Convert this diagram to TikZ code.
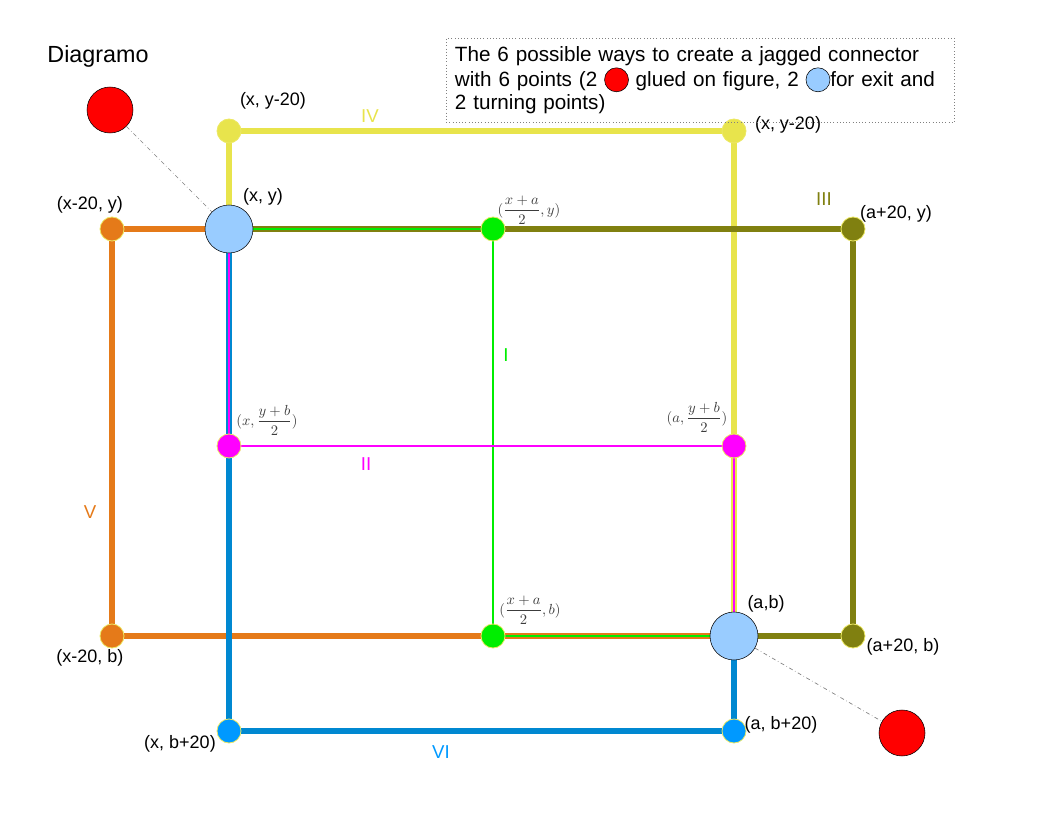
\documentclass[tikz,border=0pt]{standalone}
\usepackage{amsmath}
\usepackage{fontspec}
\setmainfont{Liberation Sans}
\usepackage{tikz}
\usetikzlibrary{positioning, backgrounds, calc}

\definecolor{ivyellow}{RGB}{232,228,76}
\definecolor{vorange}{RGB}{229,122,25}
\definecolor{iiiolive}{RGB}{128,128,16}
\definecolor{igreen}{RGB}{0,238,0}
\definecolor{iimagenta}{RGB}{255,0,255}
\definecolor{viblue}{RGB}{0,136,209}
\definecolor{vidot}{RGB}{0,153,255}
\definecolor{exitblue}{RGB}{153,204,255}
\definecolor{dotrim}{RGB}{236,232,100}
\definecolor{mathgray}{RGB}{60,60,60}

\newcommand{\gluemark}{\tikz[baseline={(0pt,-5pt)}]\draw[fill=red] (0pt,0pt) circle[radius=9pt];}
\newcommand{\exitmark}{\tikz[baseline={(0pt,-5pt)}]\draw[fill=exitblue] (0pt,0pt) circle[radius=9pt];}

\begin{document}
\begin{tikzpicture}[x=0.75pt, y=-0.75pt,
  every node/.style={font=\fontsize{13.5}{16}\selectfont},
  exitpt/.style={circle, draw=black, fill=exitblue, minimum size=36pt,
                 inner sep=0pt},
  gluept/.style={circle, draw=black, fill=red, minimum size=34.5pt,
                 inner sep=0pt},
  turnpt/.style={circle, draw=dotrim, fill=#1, minimum size=18pt,
                 inner sep=0pt, line width=0.6pt},
  thickpath/.style={draw=#1, line width=4.5pt},
  thinpath/.style={draw=#1, line width=1.6pt},
  gluelink/.style={draw=gray, dash dot, line width=0.5pt},
  mlbl/.style={text=mathgray, font=\fontsize{10.5}{11}\selectfont, inner sep=0pt},
  roman/.style={text=#1, font=\fontsize{14}{16}\selectfont},
]
  \useasboundingbox (0,0) rectangle (1056,816);

  % exit points and glue points
  \node[exitpt] (xy) at (229,229) {};
  \node[exitpt] (ab) at (734,636) {};
  \node[gluept] (gluetop) at (110,110) {};
  \node[gluept] (gluebot) at (902,733) {};

  % turning points
  \node[turnpt=ivyellow]  (ivl)  at (229,131) {};
  \node[turnpt=ivyellow]  (ivr)  at (734,131) {};
  \node[turnpt=vorange]   (vt)   at (112,229) {};
  \node[turnpt=vorange]   (vb)   at (112,636) {};
  \node[turnpt=iiiolive]  (iiit) at (853,229) {};
  \node[turnpt=iiiolive]  (iiib) at (853,636) {};
  \node[turnpt=igreen]    (it)   at (493,229) {};
  \node[turnpt=igreen]    (ib)   at (493,636) {};
  \node[turnpt=iimagenta] (iil)  at (229,446) {};
  \node[turnpt=iimagenta] (iir)  at (734,446) {};
  \node[turnpt=vidot]     (vil)  at (229,731) {};
  \node[turnpt=vidot]     (vir)  at (734,731) {};

  % the six connectors
  \begin{pgfonlayer}{background}
    \draw[thickpath=ivyellow] (xy.center) -- (ivl.center) -- (ivr.center) -- (ab.center);
    \draw[thickpath=vorange]  (xy.center) -- (vt.center) -- (vb.center) -- (ab.center);
    \draw[thickpath=iiiolive] (xy.center) -- (iiit.center) -- (iiib.center) -- (ab.center);
    \draw[thickpath=viblue]   (xy.center) -- (vil.center) -- (vir.center) -- (ab.center);
    \draw[thinpath=igreen]    (xy.center) -- (it.center) -- (ib.center) -- (ab.center);
    \draw[thinpath=iimagenta] (xy.center) -- (iil.center) -- (iir.center) -- (ab.center);
  \end{pgfonlayer}

  % glue links
  \draw[gluelink] (gluetop) -- (xy);
  \draw[gluelink] (ab) -- (gluebot);

  % point labels
  \node (lblivl)  at (273,101) {(x, y-20)};
  \node (lblivr)  at (788,125) {(x, y-20)};
  \node (lblxy)   at (263,197) {(x, y)};
  \node (lblvt)   at (90,205)  {(x-20, y)};
  \node (lbliiit) at (896,214) {(a+20, y)};
  \node (lblab)   at (766,604) {(a,b)};
  \node (lbliiib) at (903,647) {(a+20, b)};
  \node (lblvb)   at (90,658)  {(x-20, b)};
  \node (lblvil)  at (180,744) {(x, b+20)};
  \node (lblvir)  at (781,725) {(a, b+20)};

  \node[mlbl] (lblit)  at (529,210) {$(\dfrac{x+a}{2},y)$};
  \node[mlbl] (lblib)  at (530,610) {$(\dfrac{x+a}{2},b)$};
  \node[mlbl] (lbliil) at (267,420) {$(x,\dfrac{y+b}{2})$};
  \node[mlbl] (lbliir) at (697,417) {$(a,\dfrac{y+b}{2})$};

  % connector numbers
  \node[roman=ivyellow]  (numiv)  at (370,116) {IV};
  \node[roman=iiiolive]  (numiii) at (824,199) {III};
  \node[roman=igreen]    (numi)   at (506,355) {I};
  \node[roman=iimagenta] (numii)  at (366,464) {II};
  \node[roman=vorange]   (numv)   at (90,512)  {V};
  \node[roman=vidot]     (numvi)  at (441,752) {VI};

  % title and note
  \node[font=\fontsize{17.5}{20}\selectfont] (title) at (98,56) {Diagramo};
  \node[draw=gray, dotted, anchor=north west, text width=368pt,
        inner sep=6.5pt, align=left, font=\fontsize{15.5}{17.25}\selectfont]
        (note) at (446,38)
        {The 6 possible ways to create a jagged connector\\
         with 6 points (2 \gluemark\ glued on figure, 2 \exitmark for exit and\\
         2 turning points)};
\end{tikzpicture}
\end{document}
